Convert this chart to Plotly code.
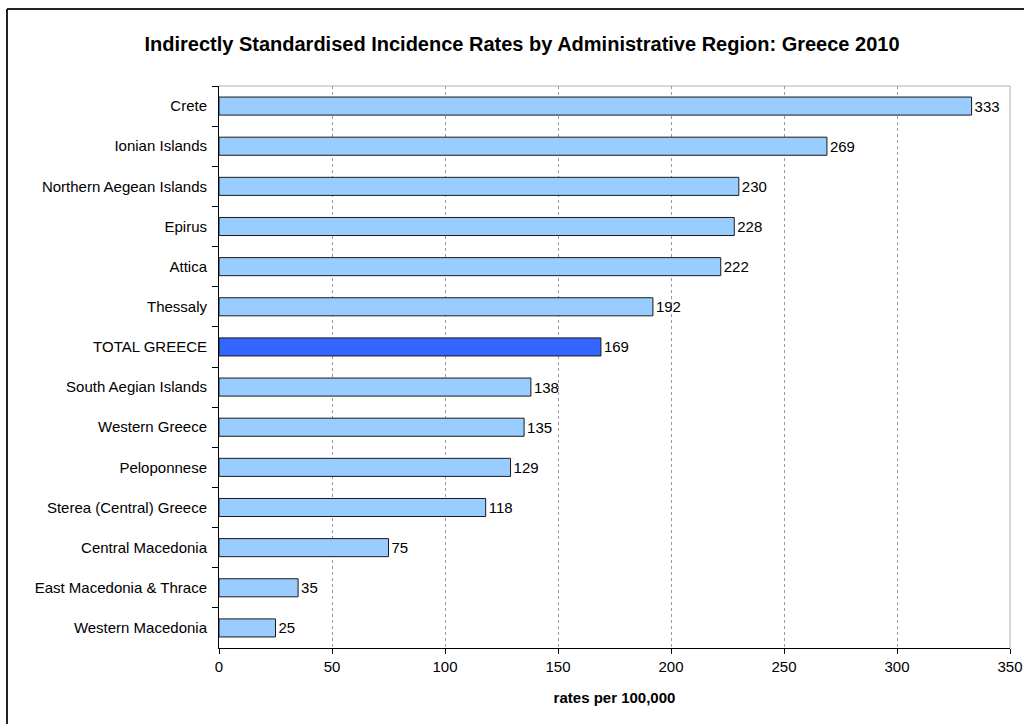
import plotly.graph_objects as go

regions = ["Crete", "Ionian Islands", "Northern Aegean Islands", "Epirus", "Attica",
           "Thessaly", "TOTAL GREECE", "South Aegian Islands", "Western Greece",
           "Peloponnese", "Sterea (Central) Greece", "Central Macedonia",
           "East Macedonia & Thrace", "Western Macedonia"]
rates = [333, 269, 230, 228, 222, 192, 169, 138, 135, 129, 118, 75, 35, 25]
x_ticks = [0, 50, 100, 150, 200, 250, 300, 350]

colors = ["#3366FF" if r == "TOTAL GREECE" else "#99CCFF" for r in regions]

W, H = 1024, 724
L, R, T, B = 219, W - 1010, 86, H - 648
FONT = "Liberation Sans, Arial"

fig = go.Figure(go.Bar(
    y=regions, x=rates, orientation="h",
    marker=dict(color=colors, line=dict(color="#1a1a1a", width=1)),
    text=[str(v) for v in rates], textposition="outside",
    textfont=dict(family=FONT, size=15, color="#000000"),
    cliponaxis=False,
))

fig.update_layout(
    width=W, height=H,
    margin=dict(l=L, r=R, t=T, b=B, autoexpand=False),
    paper_bgcolor="white", plot_bgcolor="white",
    bargap=0.55, showlegend=False,
    font=dict(family=FONT, size=15, color="#000000"),
    title=dict(text="<b>Indirectly Standardised Incidence Rates by Administrative Region: Greece 2010</b>",
               x=522 / W, xanchor="center", y=1 - 44 / H, yanchor="middle",
               font=dict(family=FONT, size=20, color="#000000")),
    xaxis=dict(range=[0, 350], tickvals=x_ticks, showgrid=True, gridcolor="#9a9a9a",
               griddash="3px,3px", gridwidth=1, zeroline=False, automargin=False,
               showline=True, linecolor="#000000", linewidth=1,
               ticks="outside", ticklen=5, tickcolor="#000000",
               tickfont=dict(size=15),
               title=dict(text="<b>rates per 100,000</b>", font=dict(size=15), standoff=18),
               mirror=False),
    yaxis=dict(autorange="reversed", showline=True, linecolor="#000000", linewidth=1,
               ticks="outside", tickson="boundaries", ticklen=6, tickcolor="#000000",
               tickfont=dict(size=15), showgrid=False, ticklabelstandoff=8, automargin=False),
)

# plot area border (top and right, light gray)
fig.add_shape(type="line", xref="paper", yref="paper", x0=0, x1=1, y0=1, y1=1,
              line=dict(color="#b0b0b0", width=1))
fig.add_shape(type="line", xref="paper", yref="paper", x0=1, x1=1, y0=0, y1=1,
              line=dict(color="#b0b0b0", width=1))

# outer chart frame (left and top visible)
pw = W - L - R
ph = H - T - B
fx = lambda px: (px - L) / pw
fy = lambda py: 1 - (py - T) / ph
fig.add_shape(type="line", xref="paper", yref="paper", x0=fx(7), x1=fx(W + 5), y0=fy(9), y1=fy(9),
              line=dict(color="#222222", width=2))
fig.add_shape(type="line", xref="paper", yref="paper", x0=fx(7), x1=fx(7), y0=fy(9), y1=fy(H + 5),
              line=dict(color="#222222", width=2))

fig.write_html("out.html")
